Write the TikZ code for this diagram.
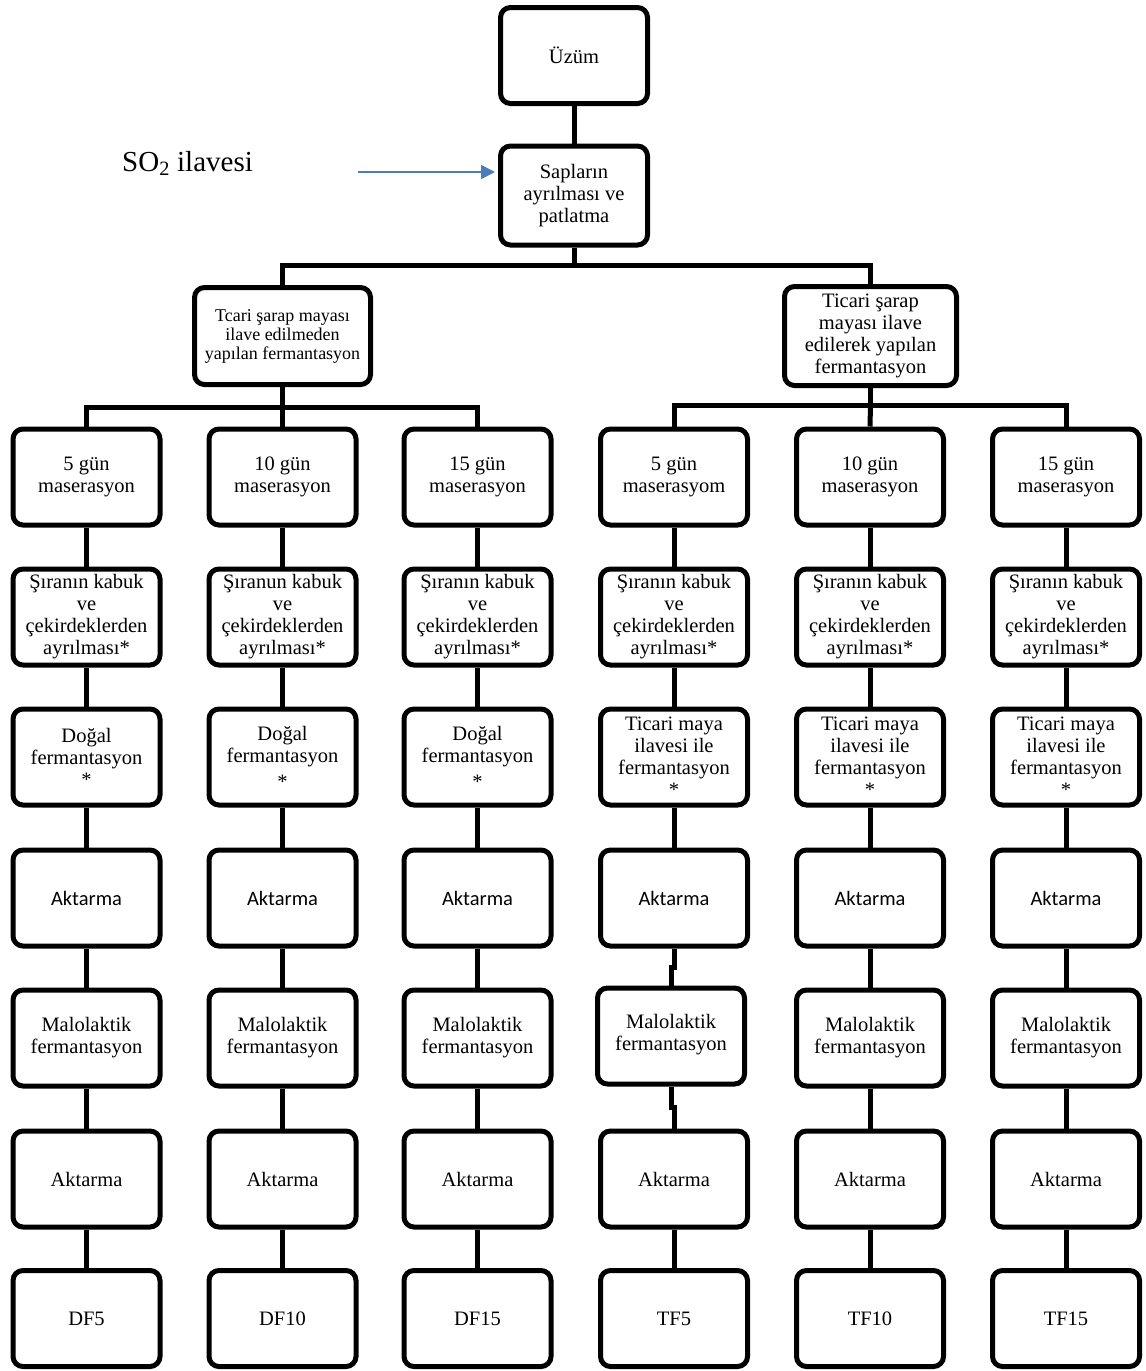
\documentclass[tikz,border=0pt]{standalone}
\usepackage{fontspec}
\setmainfont{Liberation Serif}
\newfontfamily\calibrifont{Carlito}
\usetikzlibrary{arrows.meta,calc}
\definecolor{officeblue}{RGB}{74,126,187}
\newcommand{\fsmain}{\fontsize{20.5}{22}\selectfont}
\newcommand{\fssmall}{\fontsize{18}{19}\selectfont}
\begin{document}
\begin{tikzpicture}[x=1pt,y=-1pt,
  box/.style={draw=black, line width=5pt, rounded corners=10pt, fill=white,
    minimum width=147pt, minimum height=96pt, inner sep=0pt, align=center, font=\fsmain},
  conn/.style={draw=black, line width=5pt},
  bluearrow/.style={draw=officeblue, line width=1.7pt, -{Triangle[length=14pt,width=14pt]}}]
\useasboundingbox (0,0) rectangle (1146,1371);

% top part
\node[box] (uzum) at (574,55.5) {Üzüm};
\node[box, minimum height=99pt] (sap) at (574,195.5) {Sapların\\ayrılması ve\\patlatma};
\node[anchor=base west, inner sep=0pt, font=\fontsize{29}{32}\selectfont] (so2) at (122,171) {SO\textsubscript{2} ilavesi};
\coordinate (so2s) at (358,172);

\node[box, minimum width=176pt, minimum height=97pt, font=\fssmall] (tcari) at (282.5,336) {Tcari şarap mayası\\ilave edilmeden\\yapılan fermantasyon};
\node[box, minimum width=172pt, minimum height=99pt] (ticari) at (870.5,336) {Ticari şarap\\mayası ilave\\edilerek yapılan\\fermantasyon};

% row 1
\node[box] (a1) at (86.5,477) {5 gün\\maserasyon};
\node[box] (a2) at (282.5,477) {10 gün\\maserasyon};
\node[box] (a3) at (477.5,477) {15 gün\\maserasyon};
\node[box] (a4) at (674,477) {5 gün\\maserasyom};
\node[box] (a5) at (870,477) {10 gün\\maserasyon};
\node[box] (a6) at (1066,477) {15 gün\\maserasyon};

% row 2
\node[box] (b1) at (86.5,617) {Şıranın kabuk\\ve\\çekirdeklerden\\ayrılması*};
\node[box] (b2) at (282.5,617) {Şıranun kabuk\\ve\\çekirdeklerden\\ayrılması*};
\node[box] (b3) at (477.5,617) {Şıranın kabuk\\ve\\çekirdeklerden\\ayrılması*};
\node[box] (b4) at (674,617) {Şıranın kabuk\\ve\\çekirdeklerden\\ayrılması*};
\node[box] (b5) at (870,617) {Şıranın kabuk\\ve\\çekirdeklerden\\ayrılması*};
\node[box] (b6) at (1066,617) {Şıranın kabuk\\ve\\çekirdeklerden\\ayrılması*};

% row 3
\node[box] (c1) at (86.5,757) {Doğal\\fermantasyon\\*};
\node[box] (c2) at (282.5,757) {Doğal\\fermantasyon\\[4pt]*};
\node[box] (c3) at (477.5,757) {Doğal\\fermantasyon\\[4pt]*};
\node[box] (c4) at (674,757) {Ticari maya\\ilavesi ile\\fermantasyon\\*};
\node[box] (c5) at (870,757) {Ticari maya\\ilavesi ile\\fermantasyon\\*};
\node[box] (c6) at (1066,757) {Ticari maya\\ilavesi ile\\fermantasyon\\*};

% row 4
\node[box, font=\calibrifont\fsmain] (d1) at (86.5,898) {Aktarma};
\node[box, font=\calibrifont\fsmain] (d2) at (282.5,898) {Aktarma};
\node[box, font=\calibrifont\fsmain] (d3) at (477.5,898) {Aktarma};
\node[box, font=\calibrifont\fsmain] (d4) at (674,898) {Aktarma};
\node[box, font=\calibrifont\fsmain] (d5) at (870,898) {Aktarma};
\node[box, font=\calibrifont\fsmain] (d6) at (1066,898) {Aktarma};

% row 5
\node[box] (e1) at (86.5,1038) {Malolaktik\\fermantasyon};
\node[box] (e2) at (282.5,1038) {Malolaktik\\fermantasyon};
\node[box] (e3) at (477.5,1038) {Malolaktik\\fermantasyon};
\node[box] (e4) at (671,1036) {Malolaktik\\fermantasyon\\[-14pt]\mbox{}};
\node[box] (e5) at (870,1038) {Malolaktik\\fermantasyon};
\node[box] (e6) at (1066,1038) {Malolaktik\\fermantasyon};

% row 6
\node[box] (f1) at (86.5,1179) {Aktarma};
\node[box] (f2) at (282.5,1179) {Aktarma};
\node[box] (f3) at (477.5,1179) {Aktarma};
\node[box] (f4) at (674,1179) {Aktarma};
\node[box] (f5) at (870,1179) {Aktarma};
\node[box] (f6) at (1066,1179) {Aktarma};

% row 7
\node[box] (g1) at (86.5,1318.5) {DF5};
\node[box] (g2) at (282.5,1318.5) {DF10};
\node[box] (g3) at (477.5,1318.5) {DF15};
\node[box] (g4) at (674,1318.5) {TF5};
\node[box] (g5) at (870,1318.5) {TF10};
\node[box] (g6) at (1066,1318.5) {TF15};

% connectors
\coordinate (bus1) at (574,265);
\coordinate (bus2) at (282.5,407);
\coordinate (bus3) at (870.5,405);
\draw[conn] (uzum) -- (sap);
\draw[conn] (sap.south) -- (bus1);
\draw[conn] (tcari.north) |- (bus1) -| (ticari.north);
\draw[conn] (tcari.south) -- (bus2);
\draw[conn] (a1.north) |- (bus2) -| (a3.north);
\draw[conn] (bus2) -- (a2.north);
\draw[conn] (ticari.south) -- (bus3);
\draw[conn] (a4.north) |- (bus3) -| (a6.north);
\draw[conn] (bus3) -- (a5.north);

\foreach \i in {1,...,6}{
  \draw[conn] (a\i) -- (b\i);
  \draw[conn] (b\i) -- (c\i);
  \draw[conn] (c\i) -- (d\i);
  \draw[conn] (f\i) -- (g\i);
}
\foreach \i in {1,2,3,5,6}{
  \draw[conn] (d\i) -- (e\i);
  \draw[conn] (e\i) -- (f\i);
}
\draw[conn] (d4.south) |- ($(d4.south)!0.5!(e4.north)$) -| (e4.north);
\draw[conn] (e4.south) |- ($(e4.south)!0.5!(f4.north)$) -| (f4.north);

% SO2 arrow
\draw[bluearrow, shorten >=3pt] (so2s) -- (so2s -| sap.west);
\end{tikzpicture}
\end{document}
